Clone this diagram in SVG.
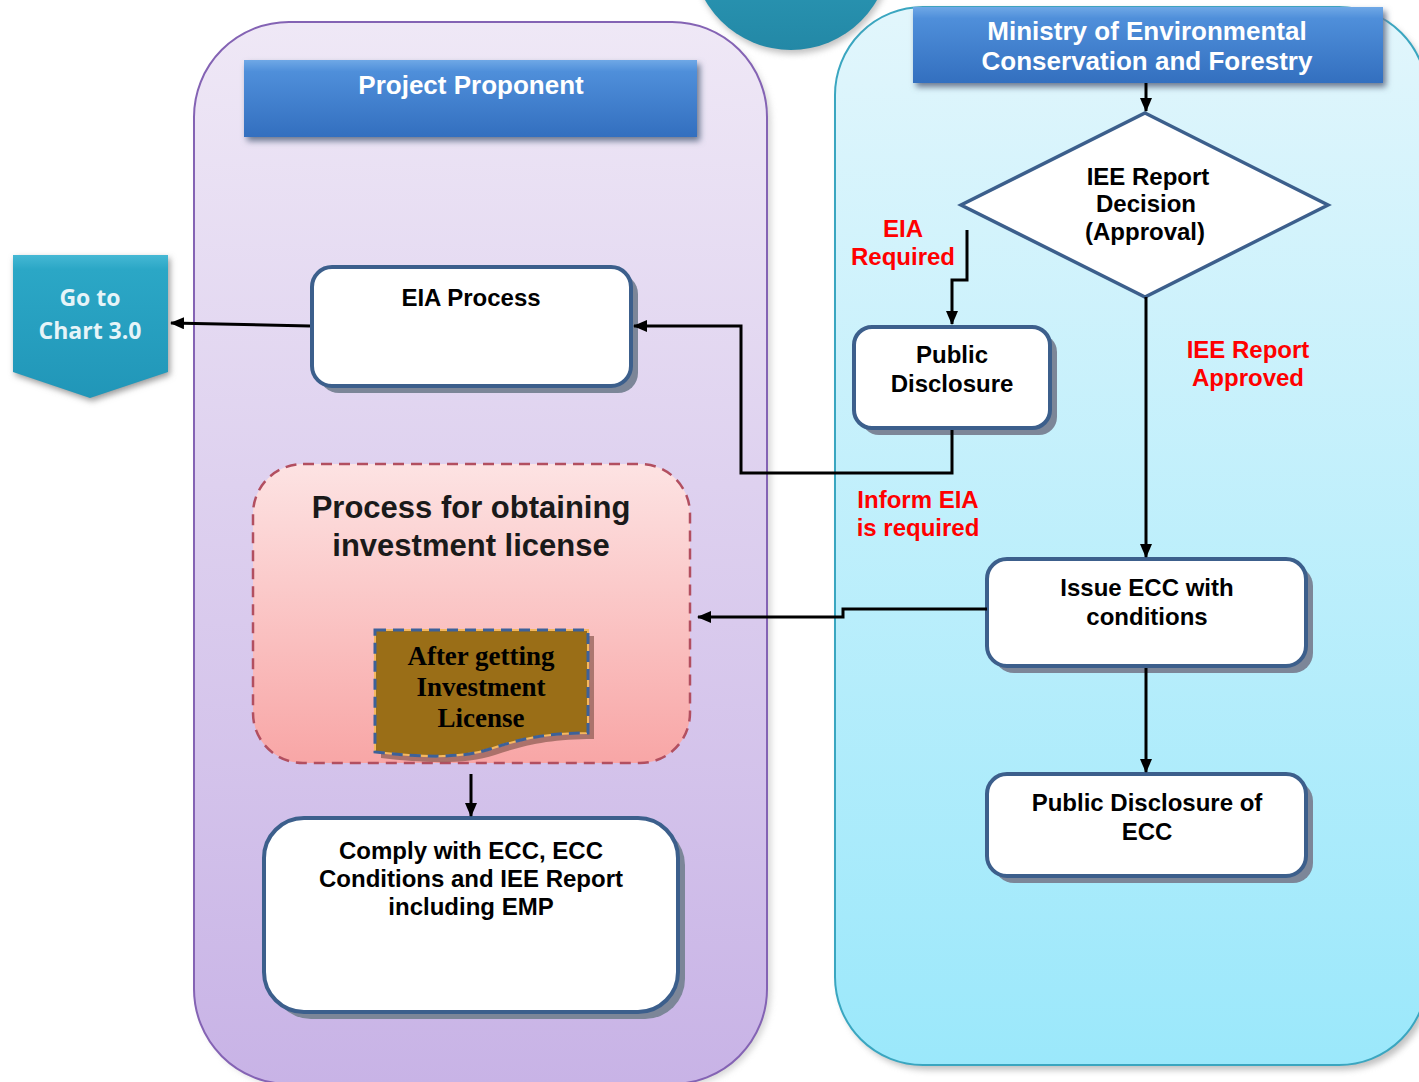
<svg xmlns="http://www.w3.org/2000/svg" width="1419" height="1082" viewBox="0 0 1419 1082">
<defs>
<linearGradient id="gLeft" x1="0" y1="0" x2="0" y2="1"><stop offset="0" stop-color="#efe8f6"/><stop offset="1" stop-color="#c8b3e6"/></linearGradient>
<linearGradient id="gRight" x1="0" y1="0" x2="0" y2="1"><stop offset="0" stop-color="#e2f6fc"/><stop offset="1" stop-color="#9be8fb"/></linearGradient>
<linearGradient id="gHead" x1="0" y1="0" x2="0" y2="1"><stop offset="0" stop-color="#6fa8e6"/><stop offset="0.15" stop-color="#4f8fda"/><stop offset="1" stop-color="#336fbf"/></linearGradient>
<linearGradient id="gPink" x1="0" y1="0" x2="0" y2="1"><stop offset="0" stop-color="#fde3e3"/><stop offset="1" stop-color="#f8a6a6"/></linearGradient>
<linearGradient id="gTeal" x1="0" y1="0" x2="0" y2="1"><stop offset="0" stop-color="#45b8d4"/><stop offset="0.1" stop-color="#2ba7c6"/><stop offset="1" stop-color="#2196b8"/></linearGradient>
<linearGradient id="gCircle" x1="0" y1="0" x2="0" y2="1"><stop offset="0" stop-color="#33a9c6"/><stop offset="1" stop-color="#2388a6"/></linearGradient>
<marker id="ah" markerUnits="userSpaceOnUse" markerWidth="14" markerHeight="12" refX="13" refY="6" orient="auto"><path d="M0,0 L14,6 L0,12 Z" fill="#000"/></marker>
<filter id="soft" x="-10%" y="-10%" width="120%" height="120%"><feGaussianBlur stdDeviation="3"/></filter>
</defs>
<style>
.box{fill:#fff;stroke:#3c5f8c;stroke-width:4}
.shd{fill:#7c8698}
.t{font-family:"Liberation Sans",Arial,sans-serif;font-weight:bold;font-size:24px;fill:#000;text-anchor:middle}
.red{font-family:"Liberation Sans",Arial,sans-serif;font-weight:bold;font-size:24px;fill:#f00;text-anchor:middle}
.wh{font-family:"Liberation Sans",Arial,sans-serif;font-weight:bold;font-size:26px;fill:#fff;text-anchor:middle}
.conn{fill:none;stroke:#000;stroke-width:3}
</style>
<rect width="1419" height="1082" fill="#fff"/>

<g id="panel-left">
<rect x="198" y="27" width="573" height="1060" rx="95" fill="#bbb" filter="url(#soft)" opacity="0.6"/>
<rect x="194" y="22" width="573" height="1062" rx="95" fill="url(#gLeft)" stroke="#8463b4" stroke-width="2"/>
</g>
<g id="panel-right">
<rect x="839" y="12" width="592" height="1058" rx="88" fill="#999" filter="url(#soft)" opacity="0.6"/>
<rect x="835" y="7" width="592" height="1058" rx="88" fill="url(#gRight)" stroke="#3aa6c0" stroke-width="2"/>
</g>
<g id="top-circle">
<circle cx="793" cy="-45" r="99" fill="#999" filter="url(#soft)" opacity="0.6"/>
<circle cx="791" cy="-49" r="99" fill="url(#gCircle)"/>
</g>

<g id="header-project">
<rect x="247" y="64" width="453" height="77" fill="#6a7890" filter="url(#soft)"/>
<rect x="244" y="60" width="453" height="77" fill="url(#gHead)"/>
<text class="wh" x="471" y="94">Project Proponent</text>
</g>
<g id="header-ministry">
<rect x="916" y="11" width="470" height="76" fill="#6a7890" filter="url(#soft)"/>
<rect x="913" y="7" width="470" height="76" fill="url(#gHead)"/>
<text class="wh" x="1147" y="40">Ministry of Environmental</text>
<text class="wh" x="1147" y="70">Conservation and Forestry</text>
</g>

<g id="goto-chart">
<path d="M13,255 H168 V372 L90,398 L13,372 Z" fill="#999" filter="url(#soft)" transform="translate(2,3)"/>
<path d="M13,255 H168 V372 L90,398 L13,372 Z" fill="url(#gTeal)"/>
<text x="90" y="306" text-anchor="middle" font-family="'Open Sans',sans-serif" font-weight="bold" font-size="23" fill="#e6f4f8">Go to</text>
<text x="90" y="339" text-anchor="middle" font-family="'Open Sans',sans-serif" font-weight="bold" font-size="23" fill="#e6f4f8">Chart 3.0</text>
</g>

<g id="eia-process">
<rect class="shd" x="319" y="274" width="319" height="119" rx="20"/>
<rect class="box" x="312" y="267" width="319" height="119" rx="20"/>
<text class="t" x="471" y="306">EIA Process</text>
</g>

<g id="process-license">
<rect x="253" y="464" width="437" height="299" rx="50" fill="url(#gPink)" stroke="#b24f60" stroke-width="2.5" stroke-dasharray="11,7"/>
<text x="471" y="518" text-anchor="middle" font-family="'Liberation Sans',Arial,sans-serif" font-weight="bold" font-size="31" fill="#1a1a1a">Process for obtaining</text>
<text x="471" y="556" text-anchor="middle" font-family="'Liberation Sans',Arial,sans-serif" font-weight="bold" font-size="31" fill="#1a1a1a">investment license</text>
</g>

<g id="after-license">
<path d="M381,636 H594 V739 C550,739 525,745 495,755 C465,765 425,763 381,758 Z" fill="#8a5a50" opacity="0.7"/>
<path d="M375,630 H588 V733 C545,733 520,739 490,749 C460,759 420,757 375,752 Z" fill="#9a6e17" stroke="#f5b860" stroke-width="2"/>
<path d="M375,630 H588 V733 C545,733 520,739 490,749 C460,759 420,757 375,752 Z" fill="none" stroke="#3d6199" stroke-width="3" stroke-dasharray="11,7"/>
<text x="481" y="665" text-anchor="middle" font-family="'Liberation Serif','Times New Roman',serif" font-weight="bold" font-size="27" fill="#000">After getting</text>
<text x="481" y="696" text-anchor="middle" font-family="'Liberation Serif','Times New Roman',serif" font-weight="bold" font-size="27" fill="#000">Investment</text>
<text x="481" y="727" text-anchor="middle" font-family="'Liberation Serif','Times New Roman',serif" font-weight="bold" font-size="27" fill="#000">License</text>
</g>

<g id="comply">
<rect class="shd" x="271" y="825" width="414" height="194" rx="40"/>
<rect class="box" x="264" y="818" width="414" height="194" rx="40"/>
<text class="t" x="471" y="859">Comply with ECC, ECC</text>
<text class="t" x="471" y="887">Conditions and IEE Report</text>
<text class="t" x="471" y="915">including EMP</text>
</g>

<g id="decision">
<polygon points="1145,113 1328,205 1145,297 961,205" fill="#fff" stroke="#3c5f8c" stroke-width="3.5"/>
<text class="t" x="1148" y="185" font-size="22">IEE Report</text>
<text class="t" x="1146" y="212" font-size="22">Decision</text>
<text class="t" x="1145" y="240" font-size="22">(Approval)</text>
</g>

<g id="public-disclosure">
<rect class="shd" x="861" y="334" width="196" height="101" rx="18"/>
<rect class="box" x="854" y="327" width="196" height="101" rx="18"/>
<text class="t" x="952" y="363">Public</text>
<text class="t" x="952" y="392">Disclosure</text>
</g>

<g id="issue-ecc">
<rect class="shd" x="994" y="566" width="319" height="107" rx="20"/>
<rect class="box" x="987" y="559" width="319" height="107" rx="20"/>
<text class="t" x="1147" y="596">Issue ECC with</text>
<text class="t" x="1147" y="625">conditions</text>
</g>

<g id="public-disclosure-ecc">
<rect class="shd" x="994" y="781" width="319" height="102" rx="20"/>
<rect class="box" x="987" y="774" width="319" height="102" rx="20"/>
<text class="t" x="1147" y="811">Public Disclosure of</text>
<text class="t" x="1147" y="840">ECC</text>
</g>

<g id="connectors">
<line class="conn" x1="1146" y1="83" x2="1146" y2="111" marker-end="url(#ah)"/>
<polyline class="conn" points="967,230 967,280 952,280 952,324" marker-end="url(#ah)"/>
<polyline class="conn" points="952,430 952,473 741,473 741,326 634,326" marker-end="url(#ah)"/>
<line class="conn" x1="310" y1="326" x2="171" y2="323" marker-end="url(#ah)"/>
<line class="conn" x1="1146" y1="297" x2="1146" y2="557" marker-end="url(#ah)"/>
<line class="conn" x1="1146" y1="668" x2="1146" y2="772" marker-end="url(#ah)"/>
<polyline class="conn" points="987,609 843,609 843,617 698,617" marker-end="url(#ah)"/>
<line class="conn" x1="471" y1="774" x2="471" y2="816" marker-end="url(#ah)"/>
</g>

<g id="labels">
<text class="red" x="903" y="237">EIA</text>
<text class="red" x="903" y="265">Required</text>
<text class="red" x="918" y="508">Inform EIA</text>
<text class="red" x="918" y="536">is required</text>
<text class="red" x="1248" y="358">IEE Report</text>
<text class="red" x="1248" y="386">Approved</text>
</g>
</svg>
